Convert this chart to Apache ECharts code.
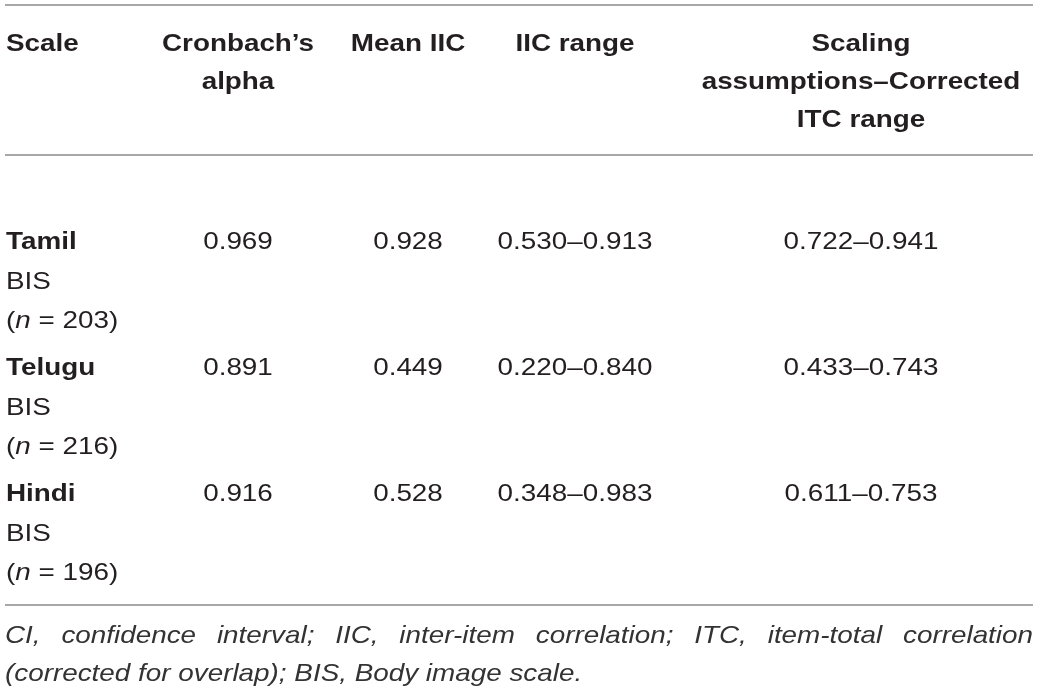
<!DOCTYPE html>
<html><head><meta charset="utf-8">
<script src="https://cdn.jsdelivr.net/npm/echarts@6/dist/echarts.min.js"></script>
<style>html,body{margin:0;padding:0;background:#fff}#c{width:1039px;height:691px}</style>
</head><body><div id="c"></div>
<script>
// ---- data ----
var headers = [["Scale"], ["Cronbach’s", "alpha"], ["Mean IIC"], ["IIC range"], ["Scaling", "assumptions–Corrected", "ITC range"]];
var scales = ["Tamil", "Telugu", "Hindi"];
var sampleN = [203, 216, 196];
var alpha = [0.969, 0.891, 0.916];
var meanIIC = [0.928, 0.449, 0.528];
var iicMin = [0.530, 0.220, 0.348];
var iicMax = [0.913, 0.840, 0.983];
var itcMin = [0.722, 0.433, 0.611];
var itcMax = [0.941, 0.743, 0.753];
var footLine1 = "CI, confidence interval; IIC, inter-item correlation; ITC, item-total correlation";
var footLine2 = "(corrected for overlap); BIS, Body image scale.";

// ---- layout ----
var FS = 24, SX = 1.16, FAM = '"Liberation Sans", Arial, Helvetica, sans-serif';
var TXT = '#231f20', LINE = '#8a8a8a';
var L = 5, R = 1033;
var colCenters = [null, 238, 408, 575, 861];
var headerY = [44, 82, 120];
var rowY = [242, 368, 494], subDy = [0, 40, 79];

var els = [];
function txt(x, y, s, opt) {
  opt = opt || {};
  var st = {
    text: s, x: 0, y: 0, fill: opt.fill || TXT,
    font: (opt.italic ? 'italic ' : '') + (opt.bold ? 'bold ' : '') + FS + 'px ' + FAM,
    align: opt.align || 'left', verticalAlign: 'middle'
  };
  if (opt.rich) st.rich = opt.rich;
  els.push({ type: 'text', x: x, y: y, scaleX: SX, scaleY: 1, style: st, silent: true });
}
function hline(y) {
  els.push({ type: 'line', shape: { x1: L, y1: y, x2: R, y2: y }, style: { stroke: LINE, lineWidth: 1.6 }, silent: true });
}
hline(5); hline(155); hline(605);

// headers
headers.forEach(function (h, c) {
  h.forEach(function (line, k) {
    if (c === 0) txt(6, headerY[k], line, { bold: true });
    else txt(colCenters[c], headerY[k], line, { bold: true, align: 'center' });
  });
});

// rows
scales.forEach(function (name, i) {
  var y = rowY[i];
  txt(6, y + subDy[0], name, { bold: true });
  txt(6, y + subDy[1], 'BIS');
  txt(6, y + subDy[2], '{r|(}{i|n}{r| = ' + sampleN[i] + ')}', {
    rich: {
      r: { font: FS + 'px ' + FAM, fill: TXT },
      i: { font: 'italic ' + FS + 'px ' + FAM, fill: TXT }
    }
  });
  txt(colCenters[1], y, alpha[i].toFixed(3), { align: 'center' });
  txt(colCenters[2], y, meanIIC[i].toFixed(3), { align: 'center' });
  txt(colCenters[3], y, iicMin[i].toFixed(3) + '–' + iicMax[i].toFixed(3), { align: 'center' });
  txt(colCenters[4], y, itcMin[i].toFixed(3) + '–' + itcMax[i].toFixed(3), { align: 'center' });
});

// footnote line 1 justified
(function () {
  var cv = document.createElement('canvas').getContext('2d');
  cv.font = 'italic ' + FS + 'px ' + FAM;
  var words = footLine1.split(' ');
  var widths = words.map(function (w) { return cv.measureText(w).width * SX; });
  var total = widths.reduce(function (a, b) { return a + b; }, 0);
  var gap = (R - L - total) / (words.length - 1);
  var x = L;
  words.forEach(function (w, k) {
    txt(x, 636, w, { italic: true, fill: '#333' });
    x += widths[k] + gap;
  });
})();
txt(L, 674, footLine2, { italic: true, fill: '#333' });

var chart = echarts.init(document.getElementById('c'), null, { renderer: 'canvas' });
chart.setOption({ backgroundColor: '#fff', animation: false, graphic: { elements: els } });
</script></body></html>
